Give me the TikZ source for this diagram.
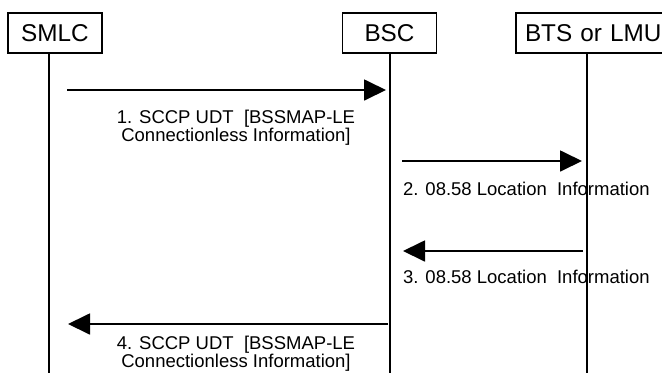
\documentclass[tikz,border=0pt]{standalone}
\usepackage{fontspec}
\setmainfont{Liberation Sans}
\usetikzlibrary{arrows.meta}
\begin{document}
\begin{tikzpicture}[x=1pt,y=-1pt,
  entity/.style={draw,line width=1.2pt,minimum width=94pt,minimum height=40pt,inner sep=0pt,font=\fontsize{24.3}{28}\selectfont},
  lifeline/.style={line width=1.5pt},
  msg/.style={line width=1.8pt,-{Triangle[length=22pt,width=21pt]}},
  lbl/.style={inner sep=0pt,font=\fontsize{18.5}{18}\selectfont}]
\useasboundingbox (0,0) rectangle (662,373);
\fill[white] (0,0) rectangle (662,373);
% entities
\node[entity] (smlc) at (55,33) {SMLC};
\node[entity,minimum width=174pt,text width=162pt,align=left] (bts) at (603,33) {\hspace*{3pt}BTS or LMU};
\node[entity] (bsc) at (389.5,33) {BSC};
% lifelines
\coordinate (smlcTop) at (49,53);
\coordinate (smlcBot) at (49,373);
\coordinate (bscTop) at (390,53);
\coordinate (bscBot) at (390,373);
\coordinate (btsTop) at (587,53);
\coordinate (btsBot) at (587,373);
\draw[lifeline] (smlcTop) -- (smlcBot);
\draw[lifeline] (bscTop) -- (bscBot);
\draw[lifeline] (btsTop) -- (btsBot);
% message end points
\coordinate (m1s) at (67,90);   \coordinate (m1e) at (386,90);
\coordinate (m2s) at (402,161); \coordinate (m2e) at (582,161);
\coordinate (m3s) at (583,251); \coordinate (m3e) at (403,251);
\coordinate (m4s) at (388,324); \coordinate (m4e) at (68,324);
\draw[msg] (m1s) -- (m1e);
\draw[msg] (m2s) -- (m2e);
\draw[msg] (m3s) -- (m3e);
\draw[msg] (m4s) -- (m4e);
% labels
\node[lbl,anchor=north,align=center] (l1) at (236,110) {1. SCCP UDT\ \ [BSSMAP-LE\\Connectionless Information]};
\node[lbl,anchor=north west] (l2) at (403,182) {2. 08.58 Location\ \ Information};
\node[lbl,anchor=north west] (l3) at (403,270) {3. 08.58 Location\ \ Information};
\node[lbl,anchor=north,align=center] (l4) at (236,336) {4. SCCP UDT\ \ [BSSMAP-LE\\Connectionless Information]};
\end{tikzpicture}
\end{document}
